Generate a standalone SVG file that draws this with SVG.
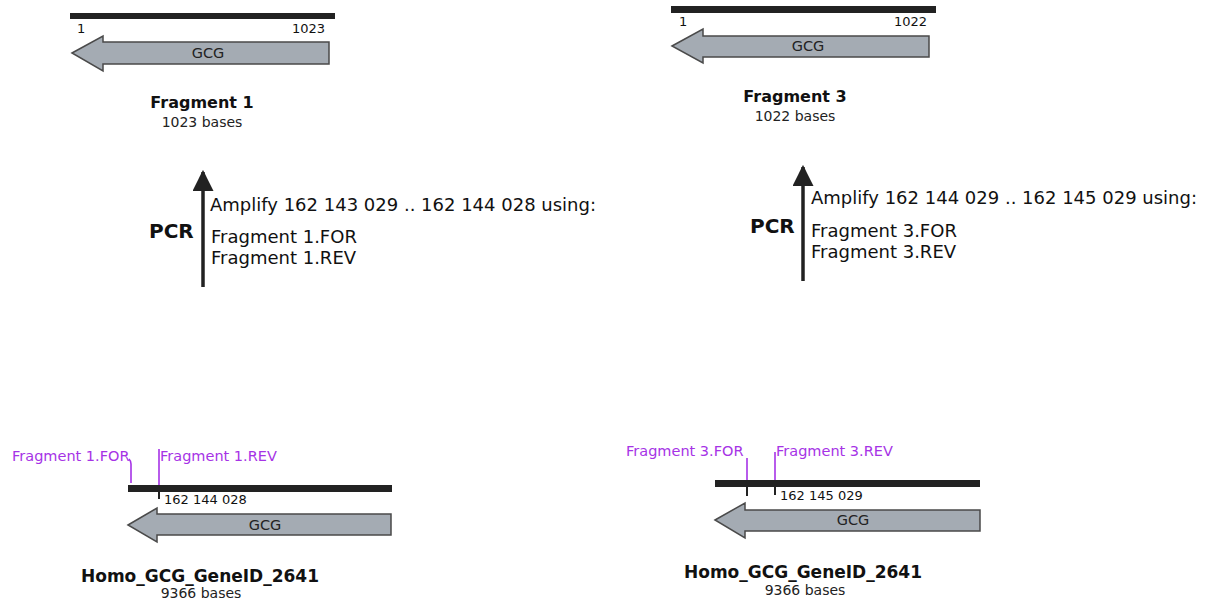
<svg xmlns="http://www.w3.org/2000/svg" width="1208" height="604" viewBox="0 0 1208 604">
  <style>
    text { font-family: "DejaVu Sans", Verdana, sans-serif; fill: #111; }
    .bar { fill: #222; }
    .gene { fill: #a4abb3; stroke: #4a4a4a; stroke-width: 1.5; }
    .gl { font-size: 14.5px; text-anchor: middle; fill: #222; }
    .pos { font-size: 13px; fill: #111; }
    .title { font-size: 16px; font-weight: bold; text-anchor: middle; }
    .sub { font-size: 14px; text-anchor: middle; fill: #222; }
    .gtitle { font-size: 17px; font-weight: bold; text-anchor: middle; }
    .pcr { font-size: 20px; font-weight: bold; }
    .step { font-size: 18px; }
    .primer { font-size: 14.5px; fill: #a633e6; }
    .pline { stroke: #a633e6; stroke-width: 1.6; fill: none; }
    .tick { stroke: #222; stroke-width: 2; }
    .up { stroke: #222; stroke-width: 3.5; fill: none; }
  </style>
  <defs>
    <marker id="head" viewBox="0 0 10 10" refX="9" refY="5" markerWidth="6" markerHeight="6" markerUnits="strokeWidth" orient="auto">
      <path d="M0,0 L10,5 L0,10 z" fill="#222"/>
    </marker>
  </defs>

  <!-- Fragment 1 product -->
  <g id="fragment1">
    <rect class="bar" x="70" y="13" width="265" height="6"/>
    <text class="pos" x="77" y="33">1</text>
    <text class="pos" x="325" y="33" text-anchor="end">1023</text>
    <path class="gene" d="M72,53 L103,36 L103,42 L329,42 L329,64 L103,64 L103,71 Z"/>
    <text class="gl" x="208" y="58">GCG</text>
    <text class="title" x="202" y="108">Fragment 1</text>
    <text class="sub" x="202" y="127">1023 bases</text>
  </g>

  <!-- Fragment 3 product -->
  <g id="fragment3">
    <rect class="bar" x="671" y="6" width="265" height="7"/>
    <text class="pos" x="679" y="26">1</text>
    <text class="pos" x="927" y="26" text-anchor="end">1022</text>
    <path class="gene" d="M672,46 L703,29 L703,36 L929,36 L929,57 L703,57 L703,63 Z"/>
    <text class="gl" x="808" y="51">GCG</text>
    <text class="title" x="795" y="102">Fragment 3</text>
    <text class="sub" x="795" y="121">1022 bases</text>
  </g>

  <!-- PCR steps -->
  <g id="connectors">
    <line class="up" x1="203" y1="287" x2="203" y2="172" marker-end="url(#head)"/>
    <line class="up" x1="803" y1="281" x2="803" y2="167" marker-end="url(#head)"/>
  </g>

  <g id="pcr1">
    <text class="pcr" x="149" y="238">PCR</text>
    <text class="step" x="210" y="211">Amplify 162 143 029 .. 162 144 028 using:</text>
    <text class="step" x="211" y="243">Fragment 1.FOR</text>
    <text class="step" x="211" y="264">Fragment 1.REV</text>
  </g>

  <g id="pcr3">
    <text class="pcr" x="750" y="233">PCR</text>
    <text class="step" x="811" y="204">Amplify 162 144 029 .. 162 145 029 using:</text>
    <text class="step" x="811" y="237">Fragment 3.FOR</text>
    <text class="step" x="811" y="258">Fragment 3.REV</text>
  </g>

  <!-- Template sequence, left -->
  <g id="template1">
    <text class="primer" x="12" y="461">Fragment 1.FOR</text>
    <text class="primer" x="160" y="461">Fragment 1.REV</text>
    <path class="pline" d="M129,459 Q131,461 131,464 L131,483"/>
    <line class="pline" x1="159" y1="449" x2="159" y2="496"/>
    <rect class="bar" x="128" y="485" width="264" height="7"/>
    <line class="tick" x1="159" y1="492" x2="159" y2="499"/>
    <text class="pos" x="164" y="504">162 144 028</text>
    <path class="gene" d="M128,525 L157,508 L157,514 L391,514 L391,535 L157,535 L157,542 Z"/>
    <text class="gl" x="265" y="530">GCG</text>
    <text class="gtitle" x="200" y="582">Homo_GCG_GeneID_2641</text>
    <text class="sub" x="201" y="598">9366 bases</text>
  </g>

  <!-- Template sequence, right -->
  <g id="template3">
    <text class="primer" x="626" y="456">Fragment 3.FOR</text>
    <text class="primer" x="776" y="456">Fragment 3.REV</text>
    <line class="pline" x1="747" y1="458" x2="747" y2="480"/>
    <line class="pline" x1="775" y1="452" x2="775" y2="492"/>
    <rect class="bar" x="715" y="480" width="265" height="7"/>
    <line class="tick" x1="747" y1="487" x2="747" y2="496"/>
    <line class="tick" x1="775" y1="487" x2="775" y2="495"/>
    <text class="pos" x="780" y="500">162 145 029</text>
    <path class="gene" d="M715,520 L745,503 L745,510 L980,510 L980,531 L745,531 L745,538 Z"/>
    <text class="gl" x="853" y="525">GCG</text>
    <text class="gtitle" x="803" y="578">Homo_GCG_GeneID_2641</text>
    <text class="sub" x="805" y="595">9366 bases</text>
  </g>
</svg>
